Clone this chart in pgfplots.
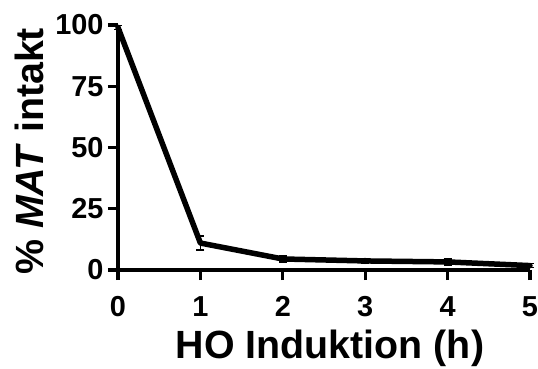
\documentclass[border=0pt]{standalone}
\usepackage{fontspec}
\setmainfont{Liberation Sans}
\usepackage{pgfplots}
\pgfplotsset{compat=1.18}
\begin{document}
\begin{tikzpicture}
\useasboundingbox (-118bp,-99bp) rectangle (420bp,270bp);
\begin{axis}[
  at={(0,0)}, anchor=south west,
  scale only axis,
  width=412bp, height=245bp,
  xmin=0, xmax=5, ymin=0, ymax=100,
  axis x line=bottom, axis y line=left,
  axis line style={line width=3.5bp, -},
  clip=false,
  xtick={0,1,2,3,4,5},
  ytick={0,25,50,75,100},
  tick align=outside,
  major tick length=10bp,
  every tick/.style={line width=3.2bp, black},
  /pgf/number format/assume math mode=true,
  tick label style={font=\fontsize{29}{32}\selectfont\bfseries},
  xticklabel style={yshift=-13bp},
  yticklabel style={xshift=-1bp},
  xlabel={HO Induktion (h)},
  ylabel={\% \textit{MAT} intakt},
  label style={font=\fontsize{39.5}{44}\selectfont\bfseries},
  xlabel style={at={(axis description cs:0.5,0)}, anchor=base, yshift=-88bp, xshift=6bp},
  ylabel style={at={(axis description cs:-0.214,0.484)}, anchor=center, rotate=0},
]
\addplot[black, line width=5.5bp, line join=round, line cap=round,
  error bars/.cd, y dir=both, y explicit,
  error bar style={line width=1.5bp}, error mark options={line width=1.5bp, mark size=4bp, rotate=90}]
  coordinates {
  (0,99) +- (0,0.8)
  (1,11) +- (0,2.8)
  (2,4.5) +- (0,1.2)
  (3,3.7) +- (0,1.0)
  (4,3.3) +- (0,1.2)
  (5,1.8) +- (0,0.8)
  };
\end{axis}
\end{tikzpicture}
\end{document}
